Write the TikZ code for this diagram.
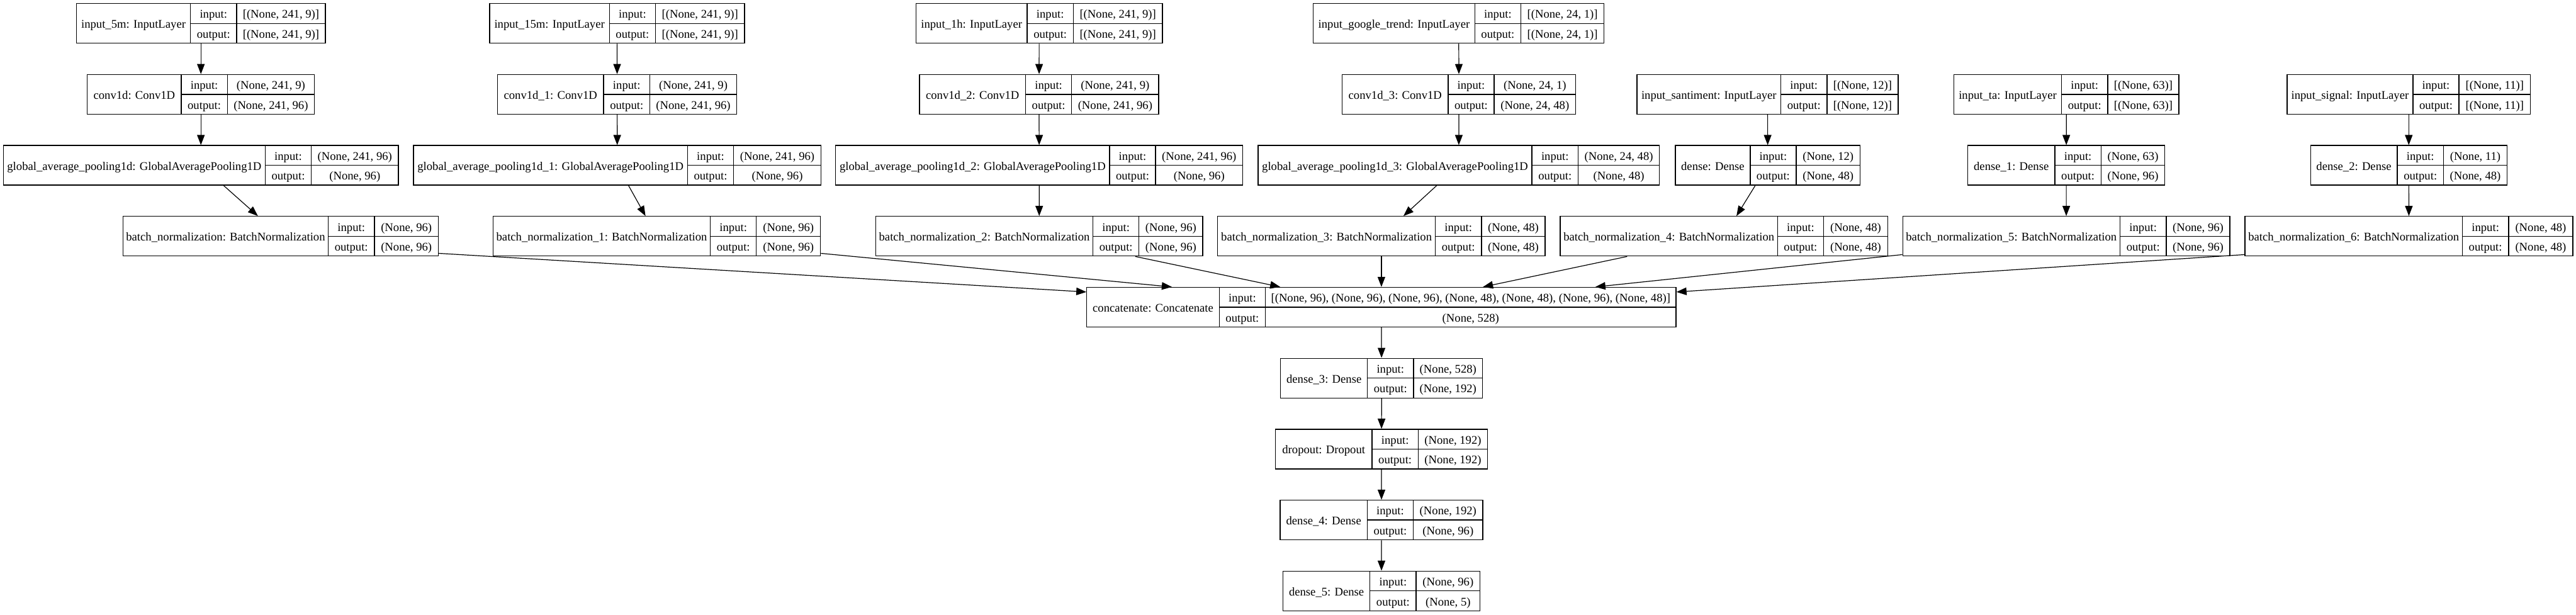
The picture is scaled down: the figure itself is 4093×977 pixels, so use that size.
\documentclass[tikz,border=0pt]{standalone}
\usepackage{fontspec}
\setmainfont{Liberation Serif}
\usetikzlibrary{arrows.meta,calc,fit}
\tikzset{
 recbox/.style={draw, line width=1pt, inner sep=0pt},
 recline/.style={line width=1pt},
 txt/.style={inner sep=0pt, anchor=base, font=\fontsize{14pt}{16pt}\selectfont},
 arr/.style={line width=0.9pt, -{Triangle[length=12pt,width=9pt]}},
}
\newcommand\rec[9]{%
 \pgfmathsetmacro\recB{#6+63}%
 \pgfmathsetmacro\recA{#2/2+#3/2}%
 \pgfmathsetmacro\recC{#3/2+#4/2}%
 \pgfmathsetmacro\recD{#4/2+#5/2}%
 \pgfmathsetmacro\recM{#6+31.5}%
 \pgfmathsetmacro\recNy{#6+39}%
 \pgfmathsetmacro\recIy{#6+23.25}%
 \pgfmathsetmacro\recOy{#6+54.75}%
 \node[recbox, fit={(#2,#6) (#5,\recB)}] (#1) {};
 \draw[recline] (#3,#6) -- (#3,\recB) (#4,#6) -- (#4,\recB) (#3,\recM) -- (#5,\recM);
 \node[txt] at (\recA,\recNy) {#7};
 \node[txt] at (\recC,\recIy) {input:};
 \node[txt] at (\recC,\recOy) {output:};
 \node[txt] at (\recD,\recIy) {#8};
 \node[txt] at (\recD,\recOy) {#9};
}
\begin{document}
\begin{tikzpicture}[x=0.75pt,y=-0.75pt]
\useasboundingbox (0,0) rectangle (4093,977);
% column 1
\rec{in5m}{121.4}{302.7}{375.9}{517}{5.7}{input\_5m: InputLayer}{[(None, 241, 9)]}{[(None, 241, 9)]}
\rec{cv0}{138.8}{288}{361.2}{499.6}{118.4}{conv1d: Conv1D}{(None, 241, 9)}{(None, 241, 96)}
\rec{gap0}{5.4}{421.4}{494.6}{633}{231.1}{global\_average\_pooling1d: GlobalAveragePooling1D}{(None, 241, 96)}{(None, 96)}
\rec{bn0}{195.5}{521.4}{595}{696.4}{343.8}{batch\_normalization: BatchNormalization}{(None, 96)}{(None, 96)}
% column 2
\rec{in15m}{778}{968.3}{1041.5}{1183}{5.7}{input\_15m: InputLayer}{[(None, 241, 9)]}{[(None, 241, 9)]}
\rec{cv1}{790.6}{958.9}{1032.6}{1170.5}{118.4}{conv1d\_1: Conv1D}{(None, 241, 9)}{(None, 241, 96)}
\rec{gap1}{657}{1092.4}{1165.6}{1304.5}{231.1}{global\_average\_pooling1d\_1: GlobalAveragePooling1D}{(None, 241, 96)}{(None, 96)}
\rec{bn1}{783.5}{1128.6}{1201.8}{1303.6}{343.8}{batch\_normalization\_1: BatchNormalization}{(None, 96)}{(None, 96)}
% column 3
\rec{in1h}{1455.4}{1632}{1705.4}{1846.9}{5.7}{input\_1h: InputLayer}{[(None, 241, 9)]}{[(None, 241, 9)]}
\rec{cv2}{1461}{1629.5}{1702.7}{1841}{118.4}{conv1d\_2: Conv1D}{(None, 241, 9)}{(None, 241, 96)}
\rec{gap2}{1327.7}{1763}{1836}{1974.6}{231.1}{global\_average\_pooling1d\_2: GlobalAveragePooling1D}{(None, 241, 96)}{(None, 96)}
\rec{bn2}{1391.5}{1736.6}{1809.8}{1911}{343.8}{batch\_normalization\_2: BatchNormalization}{(None, 96)}{(None, 96)}
% column 4
\rec{ingt}{2086.6}{2343.3}{2416.5}{2548.7}{5.7}{input\_google\_trend: InputLayer}{[(None, 24, 1)]}{[(None, 24, 1)]}
\rec{cv3}{2132.6}{2300.9}{2374}{2503.6}{118.4}{conv1d\_3: Conv1D}{(None, 24, 1)}{(None, 24, 48)}
\rec{gap3}{1999}{2434}{2507.6}{2636.6}{231.1}{global\_average\_pooling1d\_3: GlobalAveragePooling1D}{(None, 24, 48)}{(None, 48)}
\rec{bn3}{1934.8}{2280.4}{2354}{2455}{343.8}{batch\_normalization\_3: BatchNormalization}{(None, 48)}{(None, 48)}
% column 5
\rec{insent}{2601}{2829.6}{2902.8}{3016}{118.4}{input\_santiment: InputLayer}{[(None, 12)]}{[(None, 12)]}
\rec{dn0}{2662}{2780.8}{2854}{2955.4}{231.1}{dense: Dense}{(None, 12)}{(None, 48)}
\rec{bn4}{2479}{2824.3}{2897.5}{2999.4}{343.8}{batch\_normalization\_4: BatchNormalization}{(None, 48)}{(None, 48)}
% column 6
\rec{inta}{3104.6}{3275.4}{3349}{3461.8}{118.4}{input\_ta: InputLayer}{[(None, 63)]}{[(None, 63)]}
\rec{dn1}{3126.6}{3264.8}{3338.4}{3439.6}{231.1}{dense\_1: Dense}{(None, 63)}{(None, 96)}
\rec{bn5}{3023.3}{3368.3}{3442.1}{3542.8}{343.8}{batch\_normalization\_5: BatchNormalization}{(None, 96)}{(None, 96)}
% column 7
\rec{insig}{3633.8}{3834}{3906.9}{4020.7}{118.4}{input\_signal: InputLayer}{[(None, 11)]}{[(None, 11)]}
\rec{dn2}{3671.2}{3808.8}{3882.6}{3983.3}{231.1}{dense\_2: Dense}{(None, 11)}{(None, 48)}
\rec{bn6}{3567}{3912.4}{3985.8}{4088}{343.8}{batch\_normalization\_6: BatchNormalization}{(None, 48)}{(None, 48)}
% bottom chain
\rec{cc}{1726.8}{1937.2}{2010.6}{2663}{456.5}{concatenate: Concatenate}{[(None, 96), (None, 96), (None, 96), (None, 48), (None, 48), (None, 96), (None, 48)]}{(None, 528)}
\rec{dn3}{2034.8}{2172.6}{2246}{2355.6}{569.2}{dense\_3: Dense}{(None, 528)}{(None, 192)}
\rec{drop}{2026.3}{2180.1}{2253.2}{2363.8}{681.9}{dropout: Dropout}{(None, 192)}{(None, 192)}
\rec{dn4}{2033.9}{2172.4}{2245.5}{2356.1}{794.6}{dense\_4: Dense}{(None, 192)}{(None, 96)}
\rec{dn5}{2038.5}{2176.7}{2250.1}{2351.5}{907.3}{dense\_5: Dense}{(None, 96)}{(None, 5)}
% edges in columns
\draw[arr] (in5m) -- (cv0);
\draw[arr] (cv0) -- (gap0);
\draw[arr] (gap0) -- (bn0);
\draw[arr] (in15m) -- (cv1);
\draw[arr] (cv1) -- (gap1);
\draw[arr] (gap1) -- (bn1);
\draw[arr] (in1h) -- (cv2);
\draw[arr] (cv2) -- (gap2);
\draw[arr] (gap2) -- (bn2);
\draw[arr] (ingt) -- (cv3);
\draw[arr] (cv3) -- (gap3);
\draw[arr] (gap3) -- (bn3);
\draw[arr] (insent) -- (dn0);
\draw[arr] (dn0) -- (bn4);
\draw[arr] (inta) -- (dn1);
\draw[arr] (dn1) -- (bn5);
\draw[arr] (insig) -- (dn2);
\draw[arr] (dn2) -- (bn6);
% edges into concatenate
\draw[arr] ($(bn0.south east)+(0,-5)$) -- ($(cc.north west)+(0,8)$);
\draw[arr] ($(bn1.south east)+(0,-5)$) -- ($(cc.north west)+(135.8,0)$);
\draw[arr] ($(bn2.south west)+(413,0)$) -- ($(cc.north west)+(308,0)$);
\draw[arr] (bn3.south) -- (cc.north);
\draw[arr] ($(bn4.south west)+(107,0)$) -- ($(cc.north west)+(630.1,0)$);
\draw[arr] ($(bn5.south west)+(0,-3)$) -- ($(cc.north west)+(808.7,0)$);
\draw[arr] ($(bn6.south west)+(0,-3)$) -- ($(cc.north east)+(0,8)$);
% bottom chain edges
\draw[arr] (cc) -- (dn3);
\draw[arr] (dn3) -- (drop);
\draw[arr] (drop) -- (dn4);
\draw[arr] (dn4) -- (dn5);
\end{tikzpicture}
\end{document}
